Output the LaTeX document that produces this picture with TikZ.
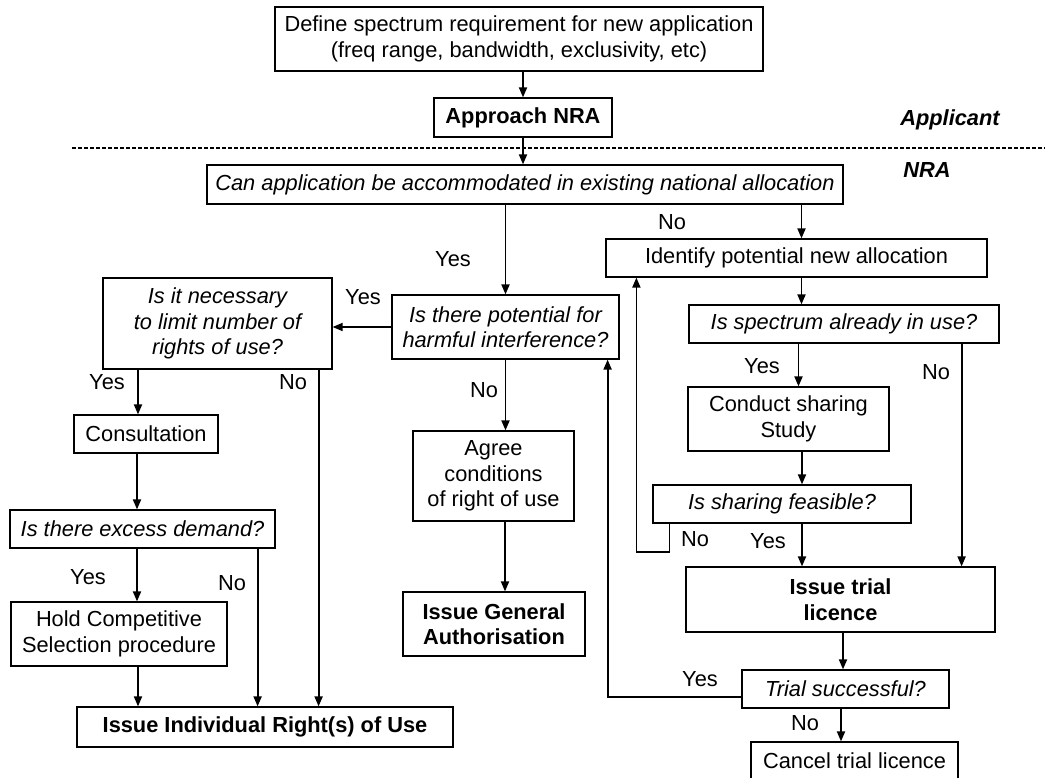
\documentclass[tikz,border=0pt]{standalone}
\usepackage{fontspec}
\setmainfont{Liberation Sans}
\usetikzlibrary{arrows.meta, positioning, calc}

\begin{document}
\begin{tikzpicture}[
  x=1pt, y=-1pt,
  every node/.style={font=\fontsize{21.8}{25.5}\selectfont},
  blk/.style={draw, line width=1.2pt, align=center, inner sep=0pt},
  ask/.style={blk, font=\fontsize{21.8}{25.5}\selectfont\itshape},
  key/.style={blk, font=\fontsize{21.8}{25.5}\selectfont\bfseries},
  lbl/.style={inner sep=0pt},
  arr/.style={line width=1.8pt, -{Triangle[length=10pt,width=8pt]}},
  wire/.style={line width=1.8pt}
]
\useasboundingbox (0,0) rectangle (1045,778);

% Applicant side
\node[blk, minimum width=488, minimum height=64] (define) at (519,39) {Define spectrum requirement for new application\\(freq range, bandwidth, exclusivity, etc)};
\node[key, minimum width=178, minimum height=39] (approach) at (523,117.5) {Approach NRA};

\draw[line width=1.2pt, dash pattern=on 4pt off 2pt] (72,148) -- (1045,148);
\node[lbl, font=\fontsize{21.8}{25.5}\selectfont\bfseries\itshape] (applicant) at (950,120) {Applicant};
\node[lbl, font=\fontsize{21.8}{25.5}\selectfont\bfseries\itshape] (nra) at (927,170) {NRA};

% NRA side
\node[ask, minimum width=636, minimum height=39] (can) at (525,184.5) {Can application be accommodated in existing national allocation};
\node[ask, minimum width=227, minimum height=64] (harmful) at (505.5,327) {Is there potential for\\harmful interference?};
\node[ask, minimum width=229, minimum height=91] (limit) at (217.5,323.5) {Is it necessary\\to limit number of\\rights of use?};
\node[blk, minimum width=144, minimum height=38] (consult) at (146,434) {Consultation};
\node[ask, minimum width=265, minimum height=38] (excess) at (142.5,529) {Is there excess demand?};
\node[blk, minimum width=216, minimum height=64] (hold) at (119,634) {Hold Competitive\\Selection procedure};
\node[key, minimum width=376, minimum height=40] (indiv) at (265,727) {Issue Individual Right(s) of Use};
\node[blk, minimum width=161, minimum height=90] (agree) at (493.5,476) {Agree\\conditions\\of right of use};
\node[key, minimum width=182, minimum height=64] (general) at (494,624) {Issue General\\Authorisation};
\node[blk, minimum width=381, minimum height=38] (identify) at (796.5,258) {Identify potential new allocation};
\node[ask, minimum width=310, minimum height=38] (spectrum) at (844,324) {Is spectrum already in use?};
\node[blk, minimum width=201, minimum height=64] (conduct) at (788.5,419) {Conduct sharing\\Study};
\node[ask, minimum width=258, minimum height=38] (sharing) at (782,504) {Is sharing feasible?};
\node[key, minimum width=309, minimum height=65] (trial) at (840.5,599.5) {Issue trial\\licence};
\node[ask, minimum width=207, minimum height=38] (success) at (845.5,689) {Trial successful?};
\node[blk, minimum width=207, minimum height=38] (cancel) at (854.5,761) {Cancel trial licence};

% labels
\node[lbl] (ycan) at (453,259) {Yes};
\node[lbl] (ncan) at (672,222) {No};
\node[lbl] (yharm) at (363,297) {Yes};
\node[lbl] (nharm) at (484,390) {No};
\node[lbl] (ylim) at (107,382) {Yes};
\node[lbl] (nlim) at (293,382) {No};
\node[lbl] (yexc) at (88,577) {Yes};
\node[lbl] (nexc) at (232,583) {No};
\node[lbl] (yspec) at (762,366) {Yes};
\node[lbl] (nspec) at (936,372) {No};
\node[lbl] (nshare) at (695,539) {No};
\node[lbl] (yshare) at (768,541) {Yes};
\node[lbl] (ysucc) at (700,679) {Yes};
\node[lbl] (nsucc) at (805,723) {No};

% Applicant -> NRA
\draw[arr] (approach |- define.south) -- (approach.north);
\draw[arr] (approach.south) -- (approach |- can.north);

% left branch
\draw[arr] (harmful |- can.south) -- (harmful.north);
\draw[arr] (harmful.west) -- (limit.east |- harmful.west);
\draw[arr] ([xshift=-8pt]consult.north |- limit.south) -- ([xshift=-8pt]consult.north);
\draw[arr] ([xshift=-14pt]limit.south east) -- ([xshift=-14pt]limit.south east |- indiv.north);
\draw[arr] ([xshift=-9pt]consult.south) -- ([xshift=-9pt]consult.south |- excess.north);
\draw[arr] ([xshift=-5.5pt]excess.south) -- ([xshift=-5.5pt]excess.south |- hold.north);
\draw[arr] ([xshift=-18pt]excess.south east) -- ([xshift=-18pt]excess.south east |- indiv.north);
\draw[arr] ([xshift=19pt]hold.south) -- ([xshift=19pt]hold.south |- indiv.north);
\draw[arr] (harmful.south) -- (harmful.south |- agree.north);
\draw[arr] ([xshift=11.5pt]agree.south) -- ([xshift=11.5pt]agree.south |- general.north);

% right branch
\draw[arr] ([xshift=5pt]identify.north |- can.south) -- ([xshift=5pt]identify.north);
\draw[arr] ([xshift=5pt]identify.south) -- ([xshift=5pt]identify.south |- spectrum.north);
\draw[arr] ([xshift=10pt]conduct.north |- spectrum.south) -- ([xshift=10pt]conduct.north);
\draw[arr] ([xshift=-34pt]trial.north east |- spectrum.south) -- ([xshift=-34pt]trial.north east);
\draw[arr] ([xshift=20pt]sharing.north |- conduct.south) -- ([xshift=20pt]sharing.north);
\draw[arr] ([xshift=20pt]sharing.south) -- ([xshift=20pt]sharing.south |- trial.north);
\draw[arr] ([xshift=17pt]sharing.south west) -- ++(0,28) -| ([xshift=31pt]identify.south west);
\draw[arr] ([xshift=2.5pt]trial.south) -- ([xshift=2.5pt]trial.south |- success.north);
\draw[arr] ([yshift=-8pt]success.west) -| ([xshift=-12pt]harmful.south east);
\draw[arr] ([xshift=-4.5pt]success.south) -- ([xshift=-4.5pt]success.south |- cancel.north);

\end{tikzpicture}
\end{document}
